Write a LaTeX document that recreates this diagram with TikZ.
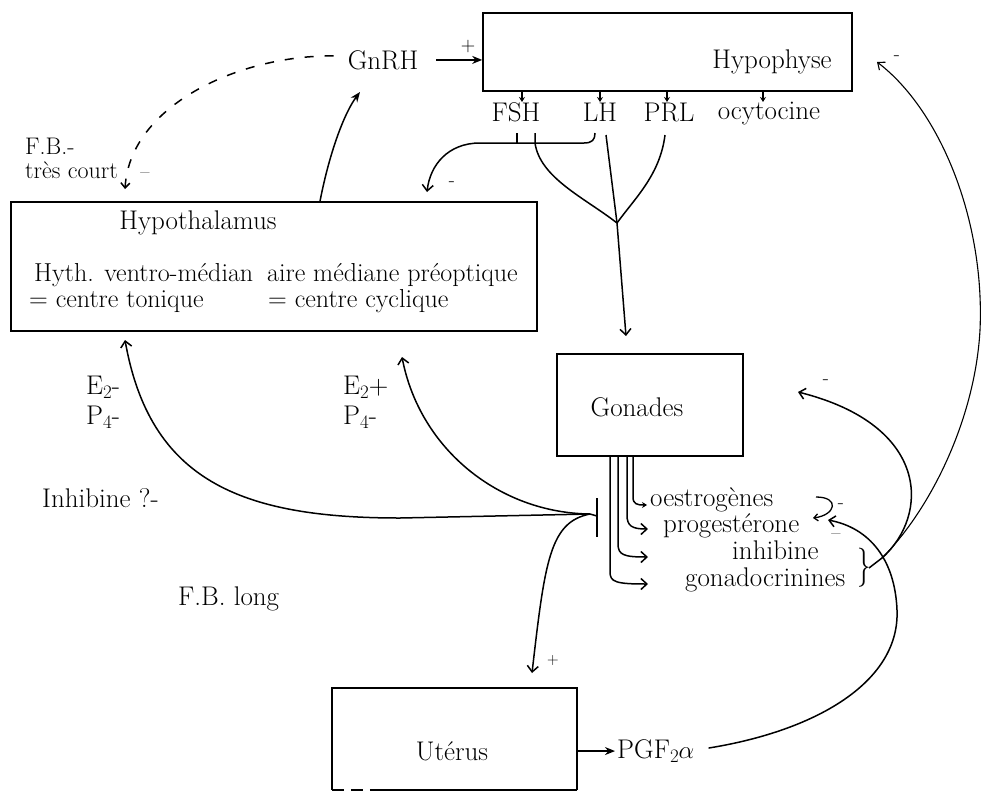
\documentclass[tikz,border=0pt]{standalone}
\usepackage{fontspec}
\usepackage{graphicx}
\usetikzlibrary{arrows.meta}
\newcommand\mysub[1]{\raisebox{-0.4ex}{\fontsize{19}{19}\selectfont #1}}
\begin{document}
\begin{tikzpicture}[x=1pt,y=-1pt,
  txt/.style={font=\fontsize{27}{32}\selectfont, inner sep=0pt},
  smalltxt/.style={font=\fontsize{26}{30}\selectfont, inner sep=0pt},
  fbtxt/.style={font=\fontsize{24}{28}\selectfont, inner sep=0pt},
  signtxt/.style={font=\fontsize{20}{24}\selectfont, inner sep=0pt},
  boxst/.style={draw, line width=1.6pt, inner sep=0pt},
  ln/.style={line width=1.5pt},
  barbarr/.style={ln, -{Straight Barb[length=6pt,width=11pt]}},
  triarr/.style={ln, -{Stealth[length=10pt,width=8pt]}},
  hormarr/.style={line width=1.2pt, -{Stealth[length=5pt,width=6pt]}},
]
\useasboundingbox (0,0) rectangle (982,798);

% ---------- boxes
\node[boxst, minimum width=369pt, minimum height=78pt] (hypo) at (667.5,52) {};
\node[boxst, minimum width=526pt, minimum height=129pt] (hyp) at (274,266.5) {};
\node[boxst, minimum width=186pt, minimum height=102pt] (gon) at (650,405) {};
\node[inner sep=0pt, minimum width=245pt, minimum height=102pt] (ut) at (454.5,739) {};
\draw[ln] (ut.south east) -- (ut.north east) -- (ut.north west) -- (ut.south west);
\draw[ln] (ut.south east) -- ([xshift=42pt]ut.south west);
\draw[ln, dash pattern=on 12pt off 7pt] (ut.south west) -- ([xshift=42pt]ut.south west);

% ---------- texts
\node[txt, anchor=mid] (hypot) at (772,66) {Hypophyse};
\node[txt, anchor=mid] (fsh) at (516,119) {FSH};
\node[txt, anchor=mid] (lh) at (600,119) {LH};
\node[txt, anchor=mid] (prl) at (669,119) {PRL};
\node[txt, anchor=mid] (ocy) at (769,117) {ocytocine};
\node[txt, anchor=mid] (gnrh) at (383,67) {GnRH};
\node[signtxt] (plus1) at (468,47) {+};

\node[txt, anchor=mid] (hyptitle) at (198,227) {Hypothalamus};
\node[smalltxt, anchor=mid west] (r1a) at (34,279) {Hyth. ventro-médian};
\node[smalltxt, anchor=mid west] (r1b) at (267,279) {aire médiane préoptique};
\node[smalltxt, anchor=mid west] (r2a) at (29,305) {= centre tonique};
\node[smalltxt, anchor=mid west] (r2b) at (268,305) {= centre cyclique};

\node[fbtxt, anchor=mid west] (fb) at (25,152) {F.B.-};
\node[fbtxt, anchor=mid west] (tc) at (25,176) {très court};
\node[signtxt] (m1) at (145,176) {–};

\node[txt, anchor=mid west] (e2a) at (86,392) {E\mysub{2}-};
\node[txt, anchor=mid west] (p4a) at (86,422) {P\mysub{4}-};
\node[txt, anchor=mid west] (e2b) at (343,392) {E\mysub{2}+};
\node[txt, anchor=mid west] (p4b) at (343,422) {P\mysub{4}-};
\node[txt, anchor=mid west] (inhq) at (42,505) {Inhibine ?-};
\node[txt, anchor=mid west] (fbl) at (178,603) {F.B. long};

\node[txt, anchor=mid] (gont) at (637,414) {Gonades};
\node[txt, anchor=mid west] (oes) at (650,504) {oestrogènes};
\node[txt, anchor=mid west] (prog) at (663,530) {progestérone};
\node[txt, anchor=mid west] (inh) at (732,557) {inhibine};
\node[txt, anchor=mid west] (gonado) at (685,584) {gonadocrinines};
\node[txt, inner sep=0pt] (brace) at (864,568) {\scalebox{1}[1.45]{\}}};

\node[txt, anchor=mid west] (pgf) at (617,756) {PGF\mysub{2}$\alpha$};
\node[txt, anchor=mid] (utt) at (452,758) {Utérus};

% ---------- coordinates
\coordinate (gnrhin) at (360,92);
\coordinate (tcend) at (125,189);
\coordinate (hypin) at (427,192);
\coordinate (jn) at (617,223);
\coordinate (gontop) at (626,336);
\coordinate (ij) at (590,514);
\coordinate (hypb1) at (125,340);
\coordinate (hypb2) at (402,357);
\coordinate (uttop) at (532,673);
\coordinate (progin) at (828,520);
\coordinate (bt) at (882,558);
\coordinate (gonin) at (798,392);
\coordinate (hypoin) at (877,62);

% ---------- connectors
\draw[triarr] ([xshift=18pt]gnrh.east) -- (gnrh.east -| hypo.west);
\draw[triarr] ([xshift=46pt]hyp.north) .. controls (330,150) and (345,112) .. (gnrhin);
\draw[ln, dash pattern=on 9pt off 11pt, -{Straight Barb[length=5pt,width=9pt]}]
  ([xshift=-14pt,yshift=4pt]gnrh.west) .. controls (240,55) and (130,105) .. (tcend);

% hormone outputs of the hypophysis
\foreach \x in {522,600,667,763} \draw[hormarr] (\x,91) -- (\x,102);

% FSH + LH bracket, short feedback to hypothalamus
\draw[ln] (517,133) -- (517,143);
\draw[barbarr] (595,133) .. controls (595,140) and (592,143) .. (584,143) -- (480,143)
  .. controls (448,143) and (430,165) .. (hypin);
\node[signtxt] (m2) at (452,184) {-};

% tree FSH / LH / PRL to gonads
\draw[ln] (535,133) -- (535,143) .. controls (540,178) and (585,198) .. (jn);
\draw[ln] (606,135) -- (jn);
\draw[ln] (665,135) .. controls (660,175) and (635,198) .. (jn);
\draw[barbarr] (jn) -- (gontop);

% gonad products
\draw[ln, -{Stealth[length=5pt,width=6pt]}] (633,456) -- (633,497) .. controls (633,504) and (637,505) .. (647,505);
\draw[barbarr] (627,456) -- (627,515) .. controls (627,526) and (632,529) .. (648,529);
\draw[barbarr] (618,456) -- (618,544) .. controls (618,555) and (624,557) .. (648,557);
\draw[barbarr] (610,456) -- (610,572) .. controls (610,582) and (616,584) .. (648,584);

% long feedback with inhibition bar
\draw[ln] (ij) -- (597,516);
\draw[ln] (597,498) -- (597,537);
\draw[barbarr] (ij) -- (400,518) .. controls (240,518) and (150,480) .. (hypb1);
\draw[barbarr] (ij) .. controls (500,513) and (420,450) .. (hypb2);
\draw[barbarr] (ij) .. controls (550,522) and (545,560) .. (uttop);
\node[signtxt, font=\fontsize{16}{18}\selectfont] (p2) at (553,660) {+};

% uterus -> PGF2alpha -> progesterone
\draw[triarr] (ut.east |- pgf.west) -- ([xshift=-2pt]pgf.west);
\draw[barbarr] ([xshift=14pt,yshift=3pt]pgf.east) .. controls (820,730) and (900,680) .. (897,610)
  .. controls (895,560) and (870,528) .. (progin);
\node[signtxt] (m3) at (836,537) {–};

% oestrogen loop
\draw[line width=1.3pt, -{Straight Barb[length=4pt,width=7pt]}] (816,497) .. controls (840,497) and (836,515) .. (813,518);
\node[signtxt] (m4) at (841,506) {-};

% feedback from inhibine / gonadocrinines
\draw[ln] ([xshift=-2pt]brace.east) -- (bt);
\draw[barbarr] (bt) .. controls (930,515) and (930,425) .. (gonin);
\node[signtxt] (m5) at (826,382) {-};
\draw[line width=1.1pt, -{Straight Barb[length=6pt,width=10pt]}] (bt) .. controls (930,510) and (975,420) .. (980,330)
  .. controls (985,220) and (940,110) .. (hypoin);
\node[signtxt] (m6) at (897,58) {-};
\end{tikzpicture}
\end{document}
